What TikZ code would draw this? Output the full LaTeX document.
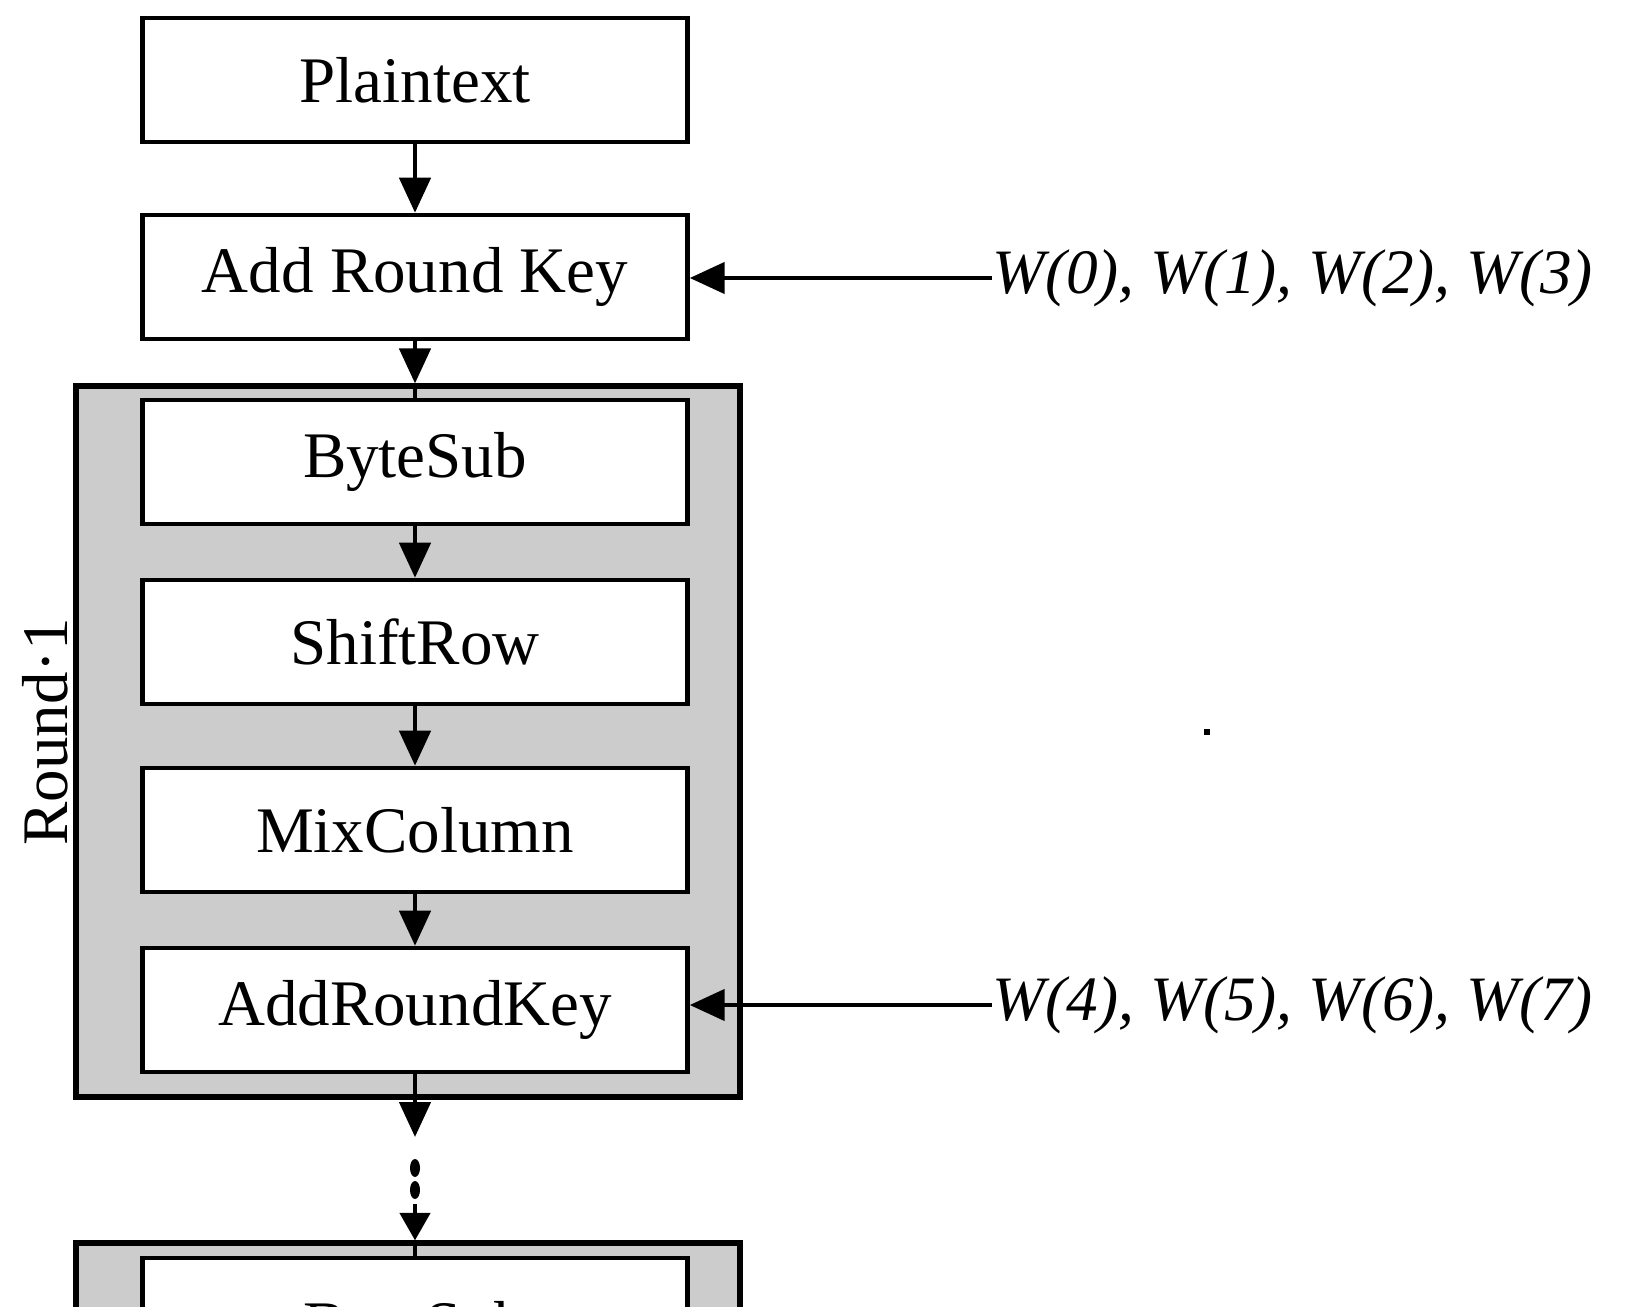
\documentclass[tikz,border=0pt]{standalone}
\usepackage{fontspec}
\setmainfont{Liberation Serif}
\usetikzlibrary{arrows.meta}
\begin{document}
\begin{tikzpicture}[x=0.02cm,y=-0.02cm,
  stepbox/.style={draw, line width=2.6pt, fill=white, minimum width=10.9cm,
    minimum height=2.48cm, inner sep=0pt, font=\fontsize{37}{44}\selectfont},
  framebox/.style={draw, line width=3pt, fill=black!20, minimum width=13.28cm, inner sep=0pt},
  conn/.style={line width=2.6pt},
  flow/.style={line width=2.6pt, -{Triangle[length=0.7cm,width=0.62cm]}},
  keylabel/.style={anchor=west, inner sep=0pt, font=\fontsize{36}{43}\selectfont\itshape},
  sidelabel/.style={rotate=90, inner sep=0pt, font=\fontsize{37}{44}\selectfont}
]
\useasboundingbox (0,0) rectangle (1628,1307);
\clip (0,0) rectangle (1628,1307);

% frames
\node[framebox, minimum height=14.22cm] (round1) at (408,741.5) {};
\node[framebox, minimum height=4cm] (round2) at (408,1343) {};

% boxes
\node[stepbox] (plain) at (415,80) {Plaintext};
\node[stepbox] (ark) at (415,277) {Add Round Key};
\node[stepbox] (bs) at (415,462) {ByteSub};
\node[stepbox] (sr) at (415,642) {ShiftRow};
\node[stepbox] (mc) at (415,830) {MixColumn};
\node[stepbox] (ark2) at (415,1010) {AddRoundKey};
\node[stepbox, minimum height=2.92cm] (bs2) at (415,1331) {ByteSub};

% side label
\node[sidelabel] (rlabel) at (45,732) {Round\textperiodcentered 1};

% key labels
\node[keylabel] (w03) at (992,278) {W(0), W(1), W(2), W(3)};
\node[keylabel] (w47) at (992,1005) {W(4), W(5), W(6), W(7)};

% connectors
\draw[flow] (plain.south) -- (ark.north);
\draw[flow] (ark.south) -- (ark.south |- round1.north);
\draw[conn] (ark.south |- round1.north) -- (bs.north);
\draw[flow] (bs.south) -- (sr.north);
\draw[flow] (sr.south) -- (mc.north);
\draw[flow] (mc.south) -- (ark2.north);
\draw[flow] (w03.west) -- (w03.west -| ark.east);
\draw[flow] (w47.west) -- (w47.west -| ark2.east);

\draw[conn] (ark2.south) -- (ark2.south |- round1.south);
\coordinate (dotstop) at (415,1137);
\draw[flow] (ark2.south |- round1.south) -- (dotstop);
\fill (415,1168) ellipse [x radius=0.1cm, y radius=0.18cm];
\fill (415,1190) ellipse [x radius=0.1cm, y radius=0.18cm];
\coordinate (dl) at (415,1204);
\draw[line width=2.6pt, -{Triangle[length=0.55cm,width=0.6cm]}] (dl) -- (dl |- round2.north);
\draw[conn] (dl |- round2.north) -- (bs2.north);

% speck
\fill (1204,729) rectangle (1210,735);
\end{tikzpicture}
\end{document}
